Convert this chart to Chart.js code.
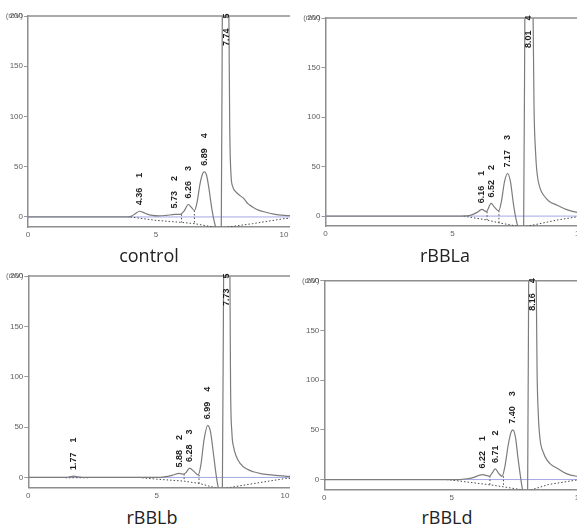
<!DOCTYPE html>
<html><head><meta charset="utf-8">
<script src="https://cdn.jsdelivr.net/npm/chart.js@4.4.0/dist/chart.umd.min.js"></script>
<style>
html,body{margin:0;padding:0;background:#fff;overflow:hidden;width:577px;height:525px;}
.panel{position:absolute;overflow:hidden;}
.panel canvas{position:absolute;left:0;top:0;}
.title{position:absolute;font-family:"Open Sans",sans-serif;font-size:18px;line-height:18px;color:#222;text-align:center;width:120px;white-space:nowrap;}
</style></head><body>
<div class="panel" style="left:0;top:0;width:290px;height:245px"><canvas id="c1" width="320" height="245"></canvas></div>
<div class="panel" style="left:290px;top:0;width:287px;height:245px"><canvas id="c2" width="320" height="245"></canvas></div>
<div class="panel" style="left:0;top:260px;width:290px;height:245px"><canvas id="c3" width="320" height="245"></canvas></div>
<div class="panel" style="left:290px;top:260px;width:287px;height:245px"><canvas id="c4" width="320" height="245"></canvas></div>
<div class="title" style="left:89px;top:246px">control</div>
<div class="title" style="left:385px;top:246px">rBBLa</div>
<div class="title" style="left:92px;top:508px">rBBLb</div>
<div class="title" style="left:387px;top:508px">rBBLd</div>
<script>
// ---------- data (time in min, signal in mV) ----------
const xTicks = [0, 5, 10];
const yTicks = [0, 50, 100, 150, 200];
const panelTitles = ["control", "rBBLa", "rBBLb", "rBBLd"];

const controlTime   = [0,1,2,3,3.9,4.05,4.2,4.36,4.5,4.65,4.85,5.1,5.4,5.73,5.95,6.1,6.26,6.4,6.5,6.6,6.72,6.82,6.89,6.97,7.07,7.17,7.27,7.36,7.5,7.55,7.6,7.74,7.83,7.88,7.93,8.0,8.12,8.3,8.44,8.6,8.77,9.0,9.29,9.6,10.0,10.4,11.5];
const controlSignal = [0,0,0,0,0,0.8,3.5,5.7,4.5,2.8,1.5,1.0,1.5,2.5,2.6,6,12.4,9,6.4,14,33,43,45,42,28,10,-4,-12,-14,-12,260,420,260,90,42,30,25,21,18,13,10,6.8,4.7,2.8,1.5,1.0,0.5];
const controlPeakRT = [4.36, 5.73, 6.26, 6.89, 7.74];
const controlPeakH  = [5.7, 2.5, 12.4, 45, 420];
const controlPeakNo = ["1", "2", "3", "4", "5"];
const controlBase1T = [4.0, 5.0, 6.0, 6.5, 7.36];
const controlBase1V = [0, -3.4, -5.4, -6.7, -10.5];
const controlBase2T = [7.66, 8.77, 10.0, 10.5];
const controlBase2V = [-10.5, -6.7, -1.7, -1];
const controlDropT   = [6.0, 6.5];
const controlDropTop = [2.6, 6.4];
const controlDropBot = [-5.4, -6.7];

const aTime   = [0,2,4,5.4,5.7,5.95,6.16,6.33,6.52,6.65,6.82,6.92,7.05,7.17,7.28,7.4,7.5,7.6,7.8,7.86,8.01,8.15,8.21,8.27,8.33,8.45,8.59,8.8,9.12,9.5,9.91,10.4,11.5];
const aSignal = [0,0,0,0,0.8,3.5,6.8,4.4,12.8,9,5.4,14,35,43,35,12,-3,-12,-14,260,420,260,110,65,43,28,21,15,11,6.5,3.7,2,1];
const aPeakRT = [6.16, 6.52, 7.17, 8.01];
const aPeakH  = [6.8, 12.8, 43, 420];
const aPeakNo = ["1", "2", "3", "4"];
const aBase1T = [5.44, 6.36, 6.83, 7.62];
const aBase1V = [0, -4, -6.8, -10.5];
const aBase2T = [7.9, 9.12, 9.91, 10.5];
const aBase2V = [-10.5, -4, -0.7, -0.5];
const aDropT   = [6.36, 6.83];
const aDropTop = [4.4, 5.4];
const aDropBot = [-4, -6.8];

const bTime   = [0,1.4,1.6,1.77,1.95,2.2,4,5,5.3,5.6,5.88,6.05,6.15,6.28,6.45,6.62,6.72,6.85,6.99,7.1,7.22,7.32,7.4,7.5,7.56,7.62,7.73,7.84,7.88,7.93,8.0,8.1,8.25,8.5,8.77,9.1,9.54,10.2,11.5];
const bSignal = [0,0,0.5,1.3,0.5,0,0,0,0.5,2,4,3.2,5,9.3,6,2.5,12,38,51.7,45,22,2,-10,-14,-12,260,420,260,90,45,30,21,14,8.5,5.6,3.6,2.3,1,0.5];
const bPeakRT = [1.77, 5.88, 6.28, 6.99, 7.73];
const bPeakH  = [1.3, 4, 9.3, 51.7, 420];
const bPeakNo = ["1", "2", "3", "4", "5"];
const bBase0T = [1.45, 2.4];
const bBase0V = [-0.3, -0.3];
const bBase1T = [4.3, 5.0, 6.07, 6.65, 7.33];
const bBase1V = [0, -1.7, -3.7, -6, -10.5];
const bBase2T = [7.72, 8.8, 10.03, 10.5];
const bBase2V = [-10.5, -6, -1, -0.8];
const bDropT   = [6.07, 6.65];
const bDropTop = [3.3, 2.5];
const bDropBot = [-3.7, -6];

const dTime   = [0,4,5.3,5.6,5.9,6.1,6.22,6.35,6.48,6.6,6.71,6.85,6.98,7.08,7.22,7.32,7.4,7.5,7.6,7.7,7.78,7.9,7.98,8.03,8.16,8.3,8.35,8.4,8.47,8.6,8.73,8.9,9.12,9.5,9.9,10.5,11.5];
const dSignal = [0,0,0,0.8,2.5,4.5,5,4.2,3.3,7,10.7,6,3.3,12,35,47,50,43,22,3,-10,-14,-12,260,420,250,110,65,40,27,20,15,11.7,6,3.3,1.8,1];
const dPeakRT = [6.22, 6.71, 7.40, 8.16];
const dPeakH  = [5, 10.7, 50, 420];
const dPeakNo = ["1", "2", "3", "4"];
const dBase1T = [4.8, 5.46, 6.5, 7.03, 7.81];
const dBase1V = [0, -2, -5.3, -7.3, -10.5];
const dBase2T = [8.1, 8.8, 9.9, 10.5];
const dBase2V = [-10.5, -5, -0.5, -0.3];
const dDropT   = [6.5, 7.03];
const dDropTop = [3.5, 3.3];
const dDropBot = [-5.3, -7.3];

// ---------- layout (pixel geometry of each panel's plot area inside its canvas) ----------
const layouts = [
  {id:"c1", yw:28,   top:16,   bottom:227,   pxPerMin:25.6},
  {id:"c2", yw:35.5, top:18,   bottom:226,   pxPerMin:25.4},
  {id:"c3", yw:28.3, top:16,   bottom:227.5, pxPerMin:25.67},
  {id:"c4", yw:34.3, top:20.7, bottom:229.5, pxPerMin:25.48}
];
const XAXIS_H = 14;

const panels = [
  {t:controlTime, s:controlSignal, rt:controlPeakRT, h:controlPeakH, no:controlPeakNo,
   bases:[[controlBase1T,controlBase1V],[controlBase2T,controlBase2V]], drops:[controlDropT,controlDropTop,controlDropBot]},
  {t:aTime, s:aSignal, rt:aPeakRT, h:aPeakH, no:aPeakNo,
   bases:[[aBase1T,aBase1V],[aBase2T,aBase2V]], drops:[aDropT,aDropTop,aDropBot]},
  {t:bTime, s:bSignal, rt:bPeakRT, h:bPeakH, no:bPeakNo,
   bases:[[bBase0T,bBase0V],[bBase1T,bBase1V],[bBase2T,bBase2V]], drops:[bDropT,bDropTop,bDropBot]},
  {t:dTime, s:dSignal, rt:dPeakRT, h:dPeakH, no:dPeakNo,
   bases:[[dBase1T,dBase1V],[dBase2T,dBase2V]], drops:[dDropT,dDropTop,dDropBot]}
];

const AXIS_COLOR = "#8e8e8e";
const TICK_COLOR = "#5e5e5e";
const CURVE_COLOR = "#7c7c7c";
const DOT_COLOR = "#4a4a4a";

const decorPlugin = {
  id: "decor",
  beforeDatasetsDraw(chart) {
    const {ctx, chartArea, scales} = chart;
    const y0 = scales.y.getPixelForValue(0);
    ctx.save();
    ctx.strokeStyle = "#a3a8e6";
    ctx.lineWidth = 1;
    ctx.beginPath();
    ctx.moveTo(chartArea.left, y0);
    ctx.lineTo(chartArea.right, y0);
    ctx.stroke();
    ctx.restore();
  },
  afterDatasetsDraw(chart, args, opts) {
    const {ctx, chartArea, scales} = chart;
    const p = opts.panel;
    ctx.save();
    // top frame line
    ctx.strokeStyle = AXIS_COLOR;
    ctx.lineWidth = 1.5;
    ctx.beginPath();
    ctx.moveTo(chartArea.left, chartArea.top);
    ctx.lineTo(chartArea.right, chartArea.top);
    ctx.stroke();
    // unit label overlapped on top tick
    ctx.fillStyle = "rgba(60,60,60,0.75)";
    ctx.font = "8px 'Liberation Sans'";
    ctx.textAlign = "right";
    ctx.textBaseline = "middle";
    ctx.fillText("(mV)", chartArea.left - 5, chartArea.top);
    // peak labels
    ctx.fillStyle = "#1e1e1e";
    ctx.font = "bold 9px 'Liberation Sans'";
    for (let i = 0; i < p.rt.length; i++) {
      const x = scales.x.getPixelForValue(p.rt[i]);
      const apex = Math.max(scales.y.getPixelForValue(p.h[i]), chartArea.top + 36);
      ctx.save();
      ctx.translate(x, apex - 6);
      ctx.rotate(-Math.PI / 2);
      ctx.textAlign = "left";
      ctx.textBaseline = "middle";
      ctx.fillText(p.rt[i].toFixed(2), 0, 0);
      ctx.restore();
      ctx.save();
      ctx.translate(x, apex - 36);
      ctx.rotate(-Math.PI / 2);
      ctx.textAlign = "center";
      ctx.textBaseline = "middle";
      ctx.fillText(p.no[i], 0, 0);
      ctx.restore();
    }
    ctx.restore();
  }
};

function pts(tArr, vArr) { return tArr.map((t, i) => ({x: t, y: vArr[i]})); }

layouts.forEach((L, k) => {
  const p = panels[k];
  const canvas = document.getElementById(L.id);
  const W = canvas.width, H = canvas.height;
  const xmax = (W - L.yw) / L.pxPerMin;
  const datasets = [];
  datasets.push({data: pts(p.t, p.s), borderColor: CURVE_COLOR, borderWidth: 1.2,
    pointRadius: 0, tension: 0.4, cubicInterpolationMode: "monotone"});
  p.bases.forEach(b => datasets.push({data: pts(b[0], b[1]), borderColor: DOT_COLOR,
    borderWidth: 1, borderDash: [1.5, 2], pointRadius: 0, tension: 0}));
  const [dt, dtop, dbot] = p.drops;
  dt.forEach((t, i) => datasets.push({data: [{x: t, y: dtop[i]}, {x: t, y: dbot[i]}],
    borderColor: DOT_COLOR, borderWidth: 1, borderDash: [1.5, 2], pointRadius: 0}));
  new Chart(canvas, {
    type: "line",
    data: {datasets},
    plugins: [decorPlugin],
    options: {
      responsive: false, animation: false, devicePixelRatio: 1,
      events: [],
      layout: {padding: {left: 0, right: 0, top: L.top, bottom: H - L.bottom - XAXIS_H}},
      plugins: {legend: {display: false}, tooltip: {enabled: false}, decor: {panel: p}},
      scales: {
        x: {type: "linear", min: 0, max: xmax,
          afterFit(s) { s.height = XAXIS_H; },
          afterBuildTicks(s) { s.ticks = xTicks.map(v => ({value: v})); },
          ticks: {font: {size: 8, family: "'Liberation Sans'"}, color: TICK_COLOR, padding: 3, maxRotation: 0, autoSkip: false},
          grid: {display: false, drawTicks: false, tickLength: 0},
          border: {display: true, color: AXIS_COLOR, width: 1.5}},
        y: {type: "linear", min: -10, max: 200,
          afterFit(s) { s.width = L.yw; },
          afterBuildTicks(s) { s.ticks = yTicks.map(v => ({value: v})); },
          ticks: {font: {size: 8, family: "'Liberation Sans'"}, color: TICK_COLOR, padding: 1, autoSkip: false},
          grid: {drawOnChartArea: false, drawTicks: true, tickLength: 4, color: "#9a9a9a"},
          border: {display: true, color: AXIS_COLOR, width: 1.5}}
      }
    }
  });
});
</script>
</body></html>
